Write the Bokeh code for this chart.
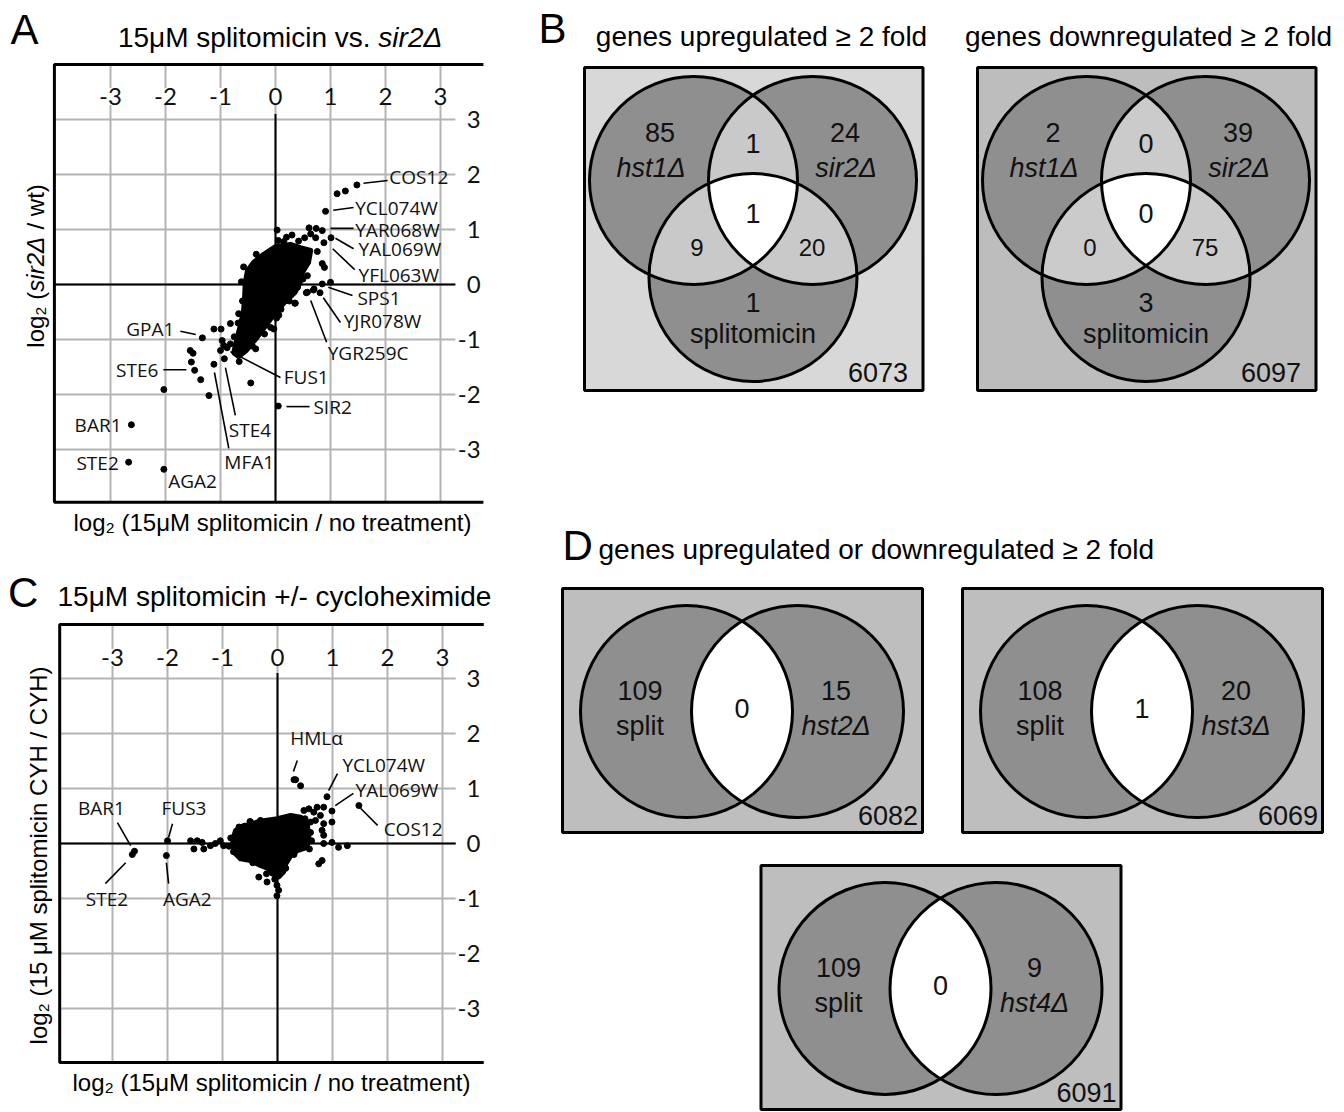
import numpy as np
from bokeh.plotting import figure
from bokeh.layouts import row, column
from bokeh.models import Range1d
from bokeh.core.properties import value
from bokeh.embed import file_html
from bokeh.resources import INLINE

SANS = value("Liberation Sans")
TICKF = value("Lato")
GENEF = value("Open Sans")
NB = "\u00a0"

TICKS = [-3, -2, -1, 0, 1, 2, 3]
TICK_LABELS = ["-3", "-2", "-1", "0", "1", "2", "3"]

# ---------------- Panel A data: log2(splitomicin/no treatment) vs log2(sir2/wt)
A_genes = ["COS12", "YCL074W", "YAR068W", "YAL069W", "YFL063W", "SPS1", "YJR078W", "YGR259C",
           "GPA1", "STE6", "FUS1", "STE4", "MFA1", "SIR2", "BAR1", "STE2", "AGA2"]
A_gene_x = [1.48, 0.91, 0.85, 1.01, 0.89, 1.00, 0.81, 0.58,
            -1.33, -1.53, -0.88, -0.93, -1.12, 0.05, -2.62, -2.67, -2.03]
A_gene_y = [1.81, 1.33, 0.98, 0.85, 0.31, 0.04, -0.15, -0.14,
            -0.97, -1.41, -1.15, -1.35, -1.45, -2.21, -2.55, -3.23, -3.36]
A_other_x = [0.03, 1.12, 1.27, 0.61, 0.74, 0.64, 0.53, 0.42, 0.73, 0.88, 0.76, 0.85, 0.58,
             0.70, 0.36, 0.06, -0.49, -0.09, -0.45, -1.12, -0.82, -0.67, -0.03, -0.49,
             -0.36, -0.99, -0.97, -1.00, -0.82, -0.94, -1.55, -1.50, -1.47, -1.36, -2.03, -0.45,
             -1.21, 0.02, 0.35, 0.69, 0.56, 0.85, 0.20, 0.30,
             -0.62, -0.60, -0.68, -0.75, 0.50, 0.40, 0.25, 0.10, -0.20, -0.35, 0.15, -0.58,
             0.55, 0.33, -0.12, -0.42, -0.66, 0.05]
A_other_y = [0.99, 1.65, 1.70, 1.03, 1.02, 0.92, 0.85, 0.79, 0.85, 0.76, 0.60, 0.38, 0.16,
             -0.08, -0.34, -0.56, 0.16, -0.78, -1.02, -0.81, -0.71, -0.53, -0.81, -1.01,
             -1.17, -0.81, -1.02, -1.20, -1.08, -1.11, -1.20, -1.25, -1.56, -1.73, -1.91, -1.79,
             -2.02, -0.61, -0.34, -0.10, -0.15, 0.01, 0.86, 0.90,
             0.05, -0.30, -0.70, -0.95, 0.10, -0.05, -0.30, -0.45, -0.90, 0.55, 0.78, 0.32,
             0.48, 0.12, -0.62, -1.12, -1.40, 0.80]
# dense cloud of genes near the origin (outline)
A_cloud_x = [-0.24, 0.00, 0.27, 0.45, 0.64, 0.60, 0.49, 0.45, 0.35, 0.16, 0.00, -0.18, -0.35,
             -0.53, -0.67, -0.76, -0.71, -0.64, -0.58, -0.56, -0.55, -0.51, -0.40]
A_cloud_y = [0.53, 0.69, 0.73, 0.67, 0.62, 0.40, 0.22, 0.04, -0.15, -0.33, -0.51, -0.75, -0.98,
             -1.20, -1.31, -1.24, -1.02, -0.75, -0.47, -0.20, 0.04, 0.25, 0.40]

# ---------------- Panel C data: log2(splitomicin/no treatment) vs log2(split CYH / CYH)
C_genes = ["HMLα", "YCL074W", "YAL069W", "COS12", "BAR1", "FUS3", "STE2", "AGA2"]
C_gene_x = [0.30, 0.90, 0.99, 1.48, -2.60, -2.00, -2.64, -2.02]
C_gene_y = [1.16, 0.85, 0.59, 0.69, -0.14, 0.05, -0.20, -0.22]
C_other_x = [0.33, 0.42, 0.48, 0.57, 0.66, 0.72, 0.84, 0.78, 0.69, 0.60, 0.84, 0.81, 0.84,
             0.99, 0.84, 1.11, 1.27, 0.75, 0.81, -0.34, -0.19, -0.01, -0.01, -0.49, -0.31,
             -1.04, -0.98, -1.13, -1.22, -1.34, -1.46, -1.52, -1.37, -1.58, 0.02, 0.99,
             -0.85, -0.70, -0.50, 0.50, 0.60, 0.58, 0.30, 0.15, -0.05, -0.20, -0.45, -0.80,
             -0.88, 0.62]
C_other_y = [1.16, 1.05, 0.60, 0.63, 0.57, 0.66, 0.66, 0.51, 0.42, 0.39, 0.36, 0.24, 0.15,
             0.39, 0.00, -0.07, -0.04, -0.37, -0.31, -0.61, -0.70, -0.76, -0.95, 0.39, 0.42,
             0.05, -0.04, 0.00, -0.04, -0.10, 0.05, -0.10, 0.02, 0.05, -0.85, 0.02,
             0.10, 0.30, 0.40, 0.45, 0.20, -0.10, -0.20, -0.45, -0.65, -0.55, -0.35, -0.15,
             -0.05, 0.05]
C_cloud_x = [-0.76, -0.61, -0.49, -0.37, -0.22, 0.00, 0.24, 0.42, 0.54, 0.57, 0.54, 0.36, 0.24,
             0.15, 0.11, 0.02, -0.10, -0.16, -0.31, -0.49, -0.67, -0.76, -0.82, -0.79]
C_cloud_y = [0.24, 0.33, 0.33, 0.39, 0.42, 0.45, 0.51, 0.48, 0.36, 0.11, -0.07, -0.13, -0.22,
             -0.37, -0.52, -0.61, -0.55, -0.46, -0.40, -0.31, -0.28, -0.19, -0.01, 0.15]

# ---------------- Venn counts
B_up = dict(a=85, b=24, c=1, ab=1, ac=9, bc=20, abc=1, total=6073)
B_down = dict(a=2, b=39, c=3, ab=0, ac=0, bc=75, abc=0, total=6097)
D_sets = ["hst2Δ", "hst3Δ", "hst4Δ"]
D_split_only = [109, 108, 109]
D_other_only = [15, 20, 9]
D_both = [0, 1, 0]
D_total = [6082, 6069, 6091]

GRID = "#b4b4b4"


def new_fig(w, h, xr, yr):
    p = figure(width=w, height=h, x_range=Range1d(*xr), y_range=Range1d(*yr),
               output_backend="svg", toolbar_location=None,
               x_axis_location=None, y_axis_location=None, min_border=0)
    p.outline_line_color = None
    p.grid.visible = False
    p.background_fill_color = "white"
    p.border_fill_color = "white"
    return p


def scatter_frame(p, fl, fr, fb, ft, grid_end, zero_top, xlab_y, ylab_x):
    n = len(TICKS)
    p.segment(x0=TICKS, y0=[fb] * n, x1=TICKS, y1=[ft] * n, line_color=GRID, line_width=2)
    p.segment(x0=[fl] * n, y0=TICKS, x1=[grid_end] * n, y1=TICKS, line_color=GRID, line_width=2)
    p.text(x=TICKS, y=[xlab_y] * n, text=TICK_LABELS, text_font=TICKF, text_font_size="24px",
           text_align="center", text_baseline="middle", text_color="#111111",
           background_fill_color="white")
    p.text(x=[ylab_x] * n, y=TICKS, text=TICK_LABELS, text_font=TICKF, text_font_size="24px",
           text_align="right", text_baseline="middle", text_color="#111111")
    p.segment(x0=[fl, 0], y0=[0, zero_top], x1=[grid_end, 0], y1=[0, fb],
              line_color="black", line_width=2)
    p.line(x=[fr, fl, fl, fr], y=[ft, ft, fb, fb], line_color="black", line_width=3)


def gene_labels(p, names, lx, ly, align, lines):
    for al in ("left", "right", "center"):
        idx = [i for i, a in enumerate(align) if a == al]
        if idx:
            p.text(x=[lx[i] for i in idx], y=[ly[i] for i in idx], text=[names[i] for i in idx],
                   text_font=GENEF, text_font_size="19px", text_align=al,
                   text_baseline="middle", text_color="#111111")
    segs = [s for s in lines if s is not None]
    p.segment(x0=[s[0] for s in segs], y0=[s[1] for s in segs],
              x1=[s[2] for s in segs], y1=[s[3] for s in segs],
              line_color="black", line_width=1.6)


S = 55.0  # pixels per log2 unit in both scatter panels

# ================= Panel A =================
AW, AH, AOX, AOY = 500, 555, 275, 284
pA = new_fig(AW, AH, (-AOX / S, (AW - AOX) / S), (-(AH - AOY) / S, AOY / S))
scatter_frame(pA, -4.02, 3.78, -3.96, 4.0, 3.27, 3.1, 3.42, 3.73)
pA.patch(A_cloud_x, A_cloud_y, fill_color="black", line_color="black", line_width=5,
         line_join="round")
pA.scatter(A_other_x, A_other_y, size=6, color="black")
pA.scatter(A_gene_x, A_gene_y, size=6, color="black")
A_lab_x = [2.07, 1.45, 1.45, 1.51, 1.51, 1.49, 1.24, 0.95, -1.84, -2.13, 0.15, -0.85, -0.93,
           0.69, -2.80, -2.85, -1.95]
A_lab_y = [1.95, 1.40, 1.00, 0.65, 0.18, -0.25, -0.67, -1.25, -0.80, -1.55, -1.69, -2.65,
           -3.22, -2.22, -2.55, -3.24, -3.58]
A_lab_align = ["left"] * 8 + ["right", "right", "left", "left", "left", "left", "right",
                              "right", "left"]
A_lines = [(1.60, 1.84, 2.04, 1.89), (1.05, 1.35, 1.42, 1.40), (1.00, 1.02, 1.42, 1.02),
           (1.09, 0.84, 1.42, 0.65), (1.04, 0.65, 1.44, 0.27), (0.96, -0.05, 1.40, -0.20),
           (0.87, -0.24, 1.18, -0.69), (0.64, -0.29, 0.93, -1.05), (-1.73, -0.85, -1.45, -0.91),
           (-2.04, -1.55, -1.62, -1.55), (-0.82, -1.22, 0.09, -1.69), (-0.91, -1.51, -0.73, -2.38),
           (-1.11, -1.60, -0.85, -2.98), (0.20, -2.22, 0.62, -2.22), None, None, None]
gene_labels(pA, A_genes, A_lab_x, A_lab_y, A_lab_align, A_lines)
# panel letter and titles
pA.text(x=[-4.82], y=[(284 - 29) / S], text=["A"], text_font=SANS, text_font_size="42px",
        text_align="left", text_baseline="middle")
pA.text(x=[1.87], y=[(284 - 37) / S], text=["15μM splitomicin vs." + NB], text_font=SANS,
        text_font_size="28px", text_align="right", text_baseline="middle")
pA.text(x=[1.87], y=[(284 - 37) / S], text=["sir2Δ"], text_font=SANS, text_font_style="italic",
        text_font_size="28px", text_align="left", text_baseline="middle")
pA.text(x=[-0.055], y=[-4.327], text=["log₂ (15μM splitomicin / no treatment)"],
        text_font=SANS, text_font_size="24px", text_align="center", text_baseline="middle")
ya = -0.13
pA.text(x=[-4.364], y=[ya], text=["log₂ ("], text_font=SANS, text_font_size="24px",
        text_align="right", text_baseline="middle", angle=np.pi / 2)
pA.text(x=[-4.364], y=[ya], text=["sir2Δ"], text_font=SANS, text_font_style="italic",
        text_font_size="24px", text_align="left", text_baseline="middle", angle=np.pi / 2)
pA.text(x=[-4.364], y=[ya + 55.5 / S], text=[NB + "/ wt)"], text_font=SANS,
        text_font_size="24px", text_align="left", text_baseline="middle", angle=np.pi / 2)

# ================= Panel C =================
CW, CH, COX, COY = 500, 557, 277, 288
pC = new_fig(CW, CH, (-COX / S, (CW - COX) / S), (-(CH - COY) / S, COY / S))
scatter_frame(pC, -3.96, 3.75, -3.98, 3.98, 3.24, 3.1, 3.38, 3.69)
pC.patch(C_cloud_x, C_cloud_y, fill_color="black", line_color="black", line_width=5,
         line_join="round")
pC.scatter(C_other_x, C_other_y, size=6, color="black")
pC.scatter(C_gene_x, C_gene_y, size=6, color="black")
C_lab_x = [0.71, 1.18, 1.42, 1.93, -3.20, -1.70, -3.10, -1.64]
C_lab_y = [1.91, 1.42, 0.98, 0.27, 0.65, 0.65, -1.00, -1.00]
C_lab_align = ["center", "left", "left", "left", "center", "center", "center", "center"]
C_lines = [(0.36, 1.51, 0.29, 1.31), (1.09, 1.27, 0.93, 0.96), (1.38, 0.91, 1.05, 0.69),
           (1.82, 0.33, 1.51, 0.64), (-2.91, 0.38, -2.67, -0.04), (-1.91, 0.36, -1.98, 0.11),
           (-3.13, -0.73, -2.76, -0.35), (-1.98, -0.73, -2.02, -0.35)]
gene_labels(pC, C_genes, C_lab_x, C_lab_y, C_lab_align, C_lines)
pC.text(x=[-4.90], y=[(843 - 592) / S], text=["C"], text_font=SANS, text_font_size="42px",
        text_align="left", text_baseline="middle")
pC.text(x=[-4.0], y=[(843 - 596) / S], text=["15μM splitomicin +/- cycloheximide"],
        text_font=SANS, text_font_size="28px", text_align="left", text_baseline="middle")
pC.text(x=[-0.11], y=[-4.345], text=["log₂ (15μM splitomicin / no treatment)"],
        text_font=SANS, text_font_size="24px", text_align="center", text_baseline="middle")
pC.text(x=[-4.345], y=[-0.218], text=["log₂ (15 μM splitomicin CYH / CYH)"], text_font=SANS,
        text_font_size="24px", text_align="center", text_baseline="middle", angle=np.pi / 2)

# ================= Right side: Venn diagrams (B and D) =================
RW, RH = 844, 1112
pR = new_fig(RW, RH, (500, 500 + RW), (RH, 0))
DARK = "#8f8f8f"


def region(circles, n=1440):
    t = np.linspace(0, 2 * np.pi, n, endpoint=False)
    xs, ys = [], []
    for i, (cx, cy, r) in enumerate(circles):
        px = cx + r * np.cos(t)
        py = cy + r * np.sin(t)
        m = np.ones(n, bool)
        for j, (ox, oy, orr) in enumerate(circles):
            if j != i:
                m &= (px - ox) ** 2 + (py - oy) ** 2 <= orr ** 2 + 1e-6
        xs.append(px[m])
        ys.append(py[m])
    x = np.concatenate(xs)
    y = np.concatenate(ys)
    o = np.argsort(np.arctan2(y - y.mean(), x - x.mean()))
    return list(x[o]), list(y[o])


def txt(x, y, s, size="27px", align="center", italic=False):
    pR.text(x=[x], y=[y], text=[s], text_font=SANS, text_font_size=size,
            text_font_style="italic" if italic else "normal", text_align=align,
            text_baseline="middle", text_color="#111111")


def venn3(cx, cy, counts, bg, pair):
    r = 104
    cs = [(cx - 59.5, cy, r), (cx + 59.5, cy, r), (cx, cy + 97, r)]
    pR.quad(left=[cx - 168.5], right=[cx + 170], top=[cy - 113], bottom=[cy + 210],
            fill_color=bg, line_color=None)
    pR.circle(x=[c[0] for c in cs], y=[c[1] for c in cs], radius=r, fill_color=DARK,
              line_color=None)
    for a, b in ((0, 1), (0, 2), (1, 2)):
        xx, yy = region([cs[a], cs[b]])
        pR.patch(xx, yy, fill_color=pair, line_color=None)
    xx, yy = region(cs)
    pR.patch(xx, yy, fill_color="white", line_color=None)
    pR.circle(x=[c[0] for c in cs], y=[c[1] for c in cs], radius=r, fill_color=None,
              line_color="black", line_width=3)
    pR.quad(left=[cx - 168.5], right=[cx + 170], top=[cy - 113], bottom=[cy + 210],
            fill_color=None, line_color="black", line_width=3)
    txt(cx - 93, cy - 48, str(counts["a"]))
    txt(cx - 102, cy - 13, "hst1Δ", italic=True)
    txt(cx, cy - 37, str(counts["ab"]))
    txt(cx + 92, cy - 48, str(counts["b"]))
    txt(cx + 93, cy - 13, "sir2Δ", italic=True)
    txt(cx, cy + 33, str(counts["abc"]))
    txt(cx - 56, cy + 67, str(counts["ac"]), size="24px")
    txt(cx + 59, cy + 67, str(counts["bc"]), size="24px")
    txt(cx, cy + 122, str(counts["c"]))
    txt(cx, cy + 153, "splitomicin")
    txt(cx + 155, cy + 192, str(counts["total"]), align="right")


def venn2(cx, cy, a, b, ab, total, name, bottom=121):
    r = 106
    cs = [(cx - 55.5, cy, r), (cx + 55.5, cy, r)]
    pR.quad(left=[cx - 179.5], right=[cx + 180.5], top=[cy - 123], bottom=[cy + bottom],
            fill_color="#bebebe", line_color=None)
    pR.circle(x=[c[0] for c in cs], y=[c[1] for c in cs], radius=r, fill_color=DARK,
              line_color=None)
    xx, yy = region(cs)
    pR.patch(xx, yy, fill_color="white", line_color=None)
    pR.circle(x=[c[0] for c in cs], y=[c[1] for c in cs], radius=r, fill_color=None,
              line_color="black", line_width=3)
    pR.quad(left=[cx - 179.5], right=[cx + 180.5], top=[cy - 123], bottom=[cy + bottom],
            fill_color=None, line_color="black", line_width=3)
    txt(cx - 102, cy - 21, str(a))
    txt(cx - 102, cy + 14, "split")
    txt(cx, cy - 3, str(ab))
    txt(cx + 94, cy - 21, str(b))
    txt(cx + 94, cy + 14, name, italic=True)
    txt(cx + 176, cy + 104, str(total), align="right")


venn3(752.5, 180, B_up, "#d8d8d8", "#c9c9c9")
venn3(1145.5, 180, B_down, "#bdbdbd", "#cbcbcb")
venn2(741.5, 711, D_split_only[0], D_other_only[0], D_both[0], D_total[0], D_sets[0])
venn2(1141.5, 711, D_split_only[1], D_other_only[1], D_both[1], D_total[1], D_sets[1])
venn2(940, 988, D_split_only[2], D_other_only[2], D_both[2], D_total[2], D_sets[2], bottom=121)

pR.text(x=[538], y=[28], text=["B"], text_font=SANS, text_font_size="42px",
        text_align="left", text_baseline="middle")
pR.text(x=[761, 1148], y=[36, 36], text=["genes upregulated ≥ 2 fold", "genes downregulated ≥ 2 fold"],
        text_font=SANS, text_font_size="28px", text_align="center", text_baseline="middle")
pR.text(x=[562], y=[545], text=["D"], text_font=SANS, text_font_size="42px",
        text_align="left", text_baseline="middle")
pR.text(x=[598], y=[549], text=["genes upregulated or downregulated ≥ 2 fold"],
        text_font=SANS, text_font_size="28px", text_align="left", text_baseline="middle")

layout = row(column(pA, pC, spacing=0), pR, spacing=0)
open("out.html", "w").write(file_html(layout, INLINE))
